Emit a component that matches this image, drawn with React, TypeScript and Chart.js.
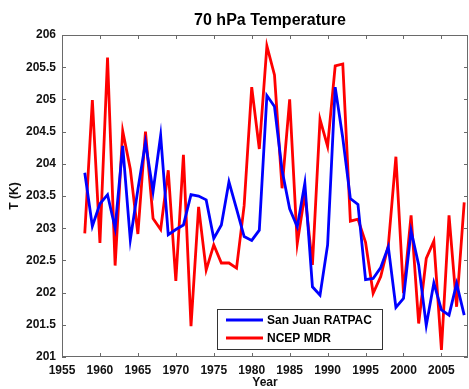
import React, { useEffect, useRef } from "react";
import { Chart, registerables } from "chart.js";

Chart.register(...registerables);

const years: number[] = [
  1958, 1959, 1960, 1961, 1962, 1963, 1964, 1965, 1966, 1967,
  1968, 1969, 1970, 1971, 1972, 1973, 1974, 1975, 1976, 1977,
  1978, 1979, 1980, 1981, 1982, 1983, 1984, 1985, 1986, 1987,
  1988, 1989, 1990, 1991, 1992, 1993, 1994, 1995, 1996, 1997,
  1998, 1999, 2000, 2001, 2002, 2003, 2004, 2005, 2006, 2007, 2008,
];

const sanJuanRatpac: number[] = [
  203.86, 203.03, 203.38, 203.52, 203.0, 204.28, 202.82, 203.6, 204.33, 203.57,
  204.44, 202.9, 202.98, 203.05, 203.52, 203.5, 203.44, 202.84, 203.05, 203.72,
  203.3, 202.87, 202.81, 202.97, 205.06, 204.89, 203.9, 203.3, 203.02, 203.7,
  202.09, 201.96, 202.74, 205.19, 204.4, 203.46, 203.37, 202.2, 202.22, 202.39,
  202.71, 201.77, 201.91, 202.96, 202.43, 201.49, 202.15, 201.73, 201.65, 202.14, 201.65,
];

const ncepMdr: number[] = [
  202.92, 204.99, 202.77, 205.65, 202.42, 204.51, 203.92, 202.91, 204.5, 203.15,
  202.98, 203.9, 202.18, 204.14, 201.48, 203.33, 202.35, 202.74, 202.46, 202.46,
  202.38, 203.35, 205.19, 204.23, 205.83, 205.38, 203.62, 205.0, 202.76, 203.53,
  202.43, 204.69, 204.27, 205.52, 205.55, 203.11, 203.14, 202.78, 201.99, 202.25,
  202.73, 204.11, 201.99, 203.2, 201.52, 202.53, 202.8, 201.11, 203.2, 201.78, 203.4,
];

const xTickValues: number[] = [1955, 1960, 1965, 1970, 1975, 1980, 1985, 1990, 1995, 2000, 2005];
const yTickValues: number[] = [201, 201.5, 202, 202.5, 203, 203.5, 204, 204.5, 205, 205.5, 206];

const seriesNames: string[] = ["San Juan RATPAC", "NCEP MDR"];
const seriesColors: string[] = ["#0000ff", "#ff0000"];
const chartTitle = "70 hPa Temperature";
const xTitle = "Year";
const yTitle = "T (K)";

const FONT = "'Liberation Sans', Arial, sans-serif";

const decorPlugin = {
  id: "decor",
  afterDatasetsDraw(chart: any) {
    const { ctx, chartArea: a, scales } = chart;
    ctx.save();
    // box
    ctx.strokeStyle = "#6a6a6a";
    ctx.lineWidth = 1;
    ctx.strokeRect(a.left + 0.5, a.top + 0.5, a.right - a.left - 1, a.bottom - a.top - 1);
    // inward ticks
    const tl = 4;
    ctx.beginPath();
    for (const t of scales.x.ticks) {
      const px = Math.round(scales.x.getPixelForValue(t.value)) + 0.5;
      ctx.moveTo(px, a.bottom);
      ctx.lineTo(px, a.bottom - tl);
      ctx.moveTo(px, a.top);
      ctx.lineTo(px, a.top + tl);
    }
    for (const t of scales.y.ticks) {
      const py = Math.round(scales.y.getPixelForValue(t.value)) + 0.5;
      ctx.moveTo(a.left, py);
      ctx.lineTo(a.left + tl, py);
      ctx.moveTo(a.right, py);
      ctx.lineTo(a.right - tl, py);
    }
    ctx.stroke();

    // title
    ctx.fillStyle = "#000";
    ctx.font = `bold 16px ${FONT}`;
    ctx.textAlign = "center";
    ctx.textBaseline = "alphabetic";
    ctx.fillText(chartTitle, 270, 25);

    // legend
    const lx = 217, ly = 309, lw = 166, lh = 41;
    ctx.fillStyle = "#fff";
    ctx.fillRect(lx, ly, lw, lh);
    ctx.strokeStyle = "#333";
    ctx.lineWidth = 1;
    ctx.strokeRect(lx + 0.5, ly + 0.5, lw - 1, lh - 1);
    const rows = [320, 338];
    chart.data.datasets.forEach((ds: any, i: number) => {
      const y = rows[i];
      ctx.strokeStyle = ds.borderColor;
      ctx.lineWidth = 2.8;
      ctx.beginPath();
      ctx.moveTo(226, y);
      ctx.lineTo(263, y);
      ctx.stroke();
      ctx.fillStyle = "#000";
      ctx.font = `bold 12px ${FONT}`;
      ctx.textAlign = "left";
      ctx.textBaseline = "middle";
      ctx.fillText(ds.label, 267, y + 0.5);
    });
    ctx.restore();
  },
};

export default function App() {
  const ref = useRef<HTMLCanvasElement | null>(null);
  useEffect(() => {
    document.body.style.margin = "0";
    const canvas = ref.current;
    if (!canvas) return;
    const chart = new Chart(canvas, {
      type: "line",
      data: {
        datasets: [
          {
            label: seriesNames[0],
            data: years.map((y, i) => ({ x: y, y: sanJuanRatpac[i] })),
            borderColor: seriesColors[0],
            backgroundColor: seriesColors[0],
            borderWidth: 2.8,
            pointRadius: 0,
            tension: 0,
          },
          {
            label: seriesNames[1],
            data: years.map((y, i) => ({ x: y, y: ncepMdr[i] })),
            borderColor: seriesColors[1],
            backgroundColor: seriesColors[1],
            borderWidth: 2.8,
            pointRadius: 0,
            tension: 0,
          },
        ],
      },
      options: {
        responsive: false,
        animation: false,
        layout: { padding: { left: 0, right: 1, top: 35, bottom: 0 } },
        plugins: {
          legend: { display: false },
          title: { display: false },
          tooltip: { enabled: false },
        },
        scales: {
          x: {
            type: "linear",
            min: 1955,
            max: 2008.5,
            grid: { display: false, drawTicks: false },
            border: { display: false },
            afterBuildTicks: (s: any) => {
              s.ticks = xTickValues.map((v) => ({ value: v }));
            },
            afterFit: (s: any) => {
              s.height = 32;
            },
            ticks: {
              autoSkip: false,
              padding: 6,
              maxRotation: 0,
              color: "#111",
              font: { family: FONT, size: 12, weight: "bold" },
              callback: (v: any) => String(v),
            },
            title: {
              display: true,
              text: xTitle,
              color: "#111",
              font: { family: FONT, size: 12, weight: "bold", lineHeight: 1 },
              padding: { top: 0, bottom: 0 },
            },
          },
          y: {
            type: "linear",
            min: 201,
            max: 206,
            grid: { display: false, drawTicks: false },
            border: { display: false },
            afterBuildTicks: (s: any) => {
              s.ticks = yTickValues.map((v) => ({ value: v }));
            },
            afterFit: (s: any) => {
              s.width = 62;
            },
            ticks: {
              autoSkip: false,
              padding: 6,
              color: "#111",
              font: { family: FONT, size: 12, weight: "bold" },
              callback: (v: any) => String(v),
            },
            title: {
              display: true,
              text: yTitle,
              color: "#111",
              font: { family: FONT, size: 12, weight: "bold", lineHeight: 1 },
              padding: { top: 9, bottom: 0 },
            },
          },
        },
      } as any,
      plugins: [decorPlugin],
    });
    return () => chart.destroy();
  }, []);
  return (
    <div style={{ width: 469, height: 389, background: "#fff" }}>
      <canvas ref={ref} width={469} height={389} style={{ display: "block" }} />
    </div>
  );
}
